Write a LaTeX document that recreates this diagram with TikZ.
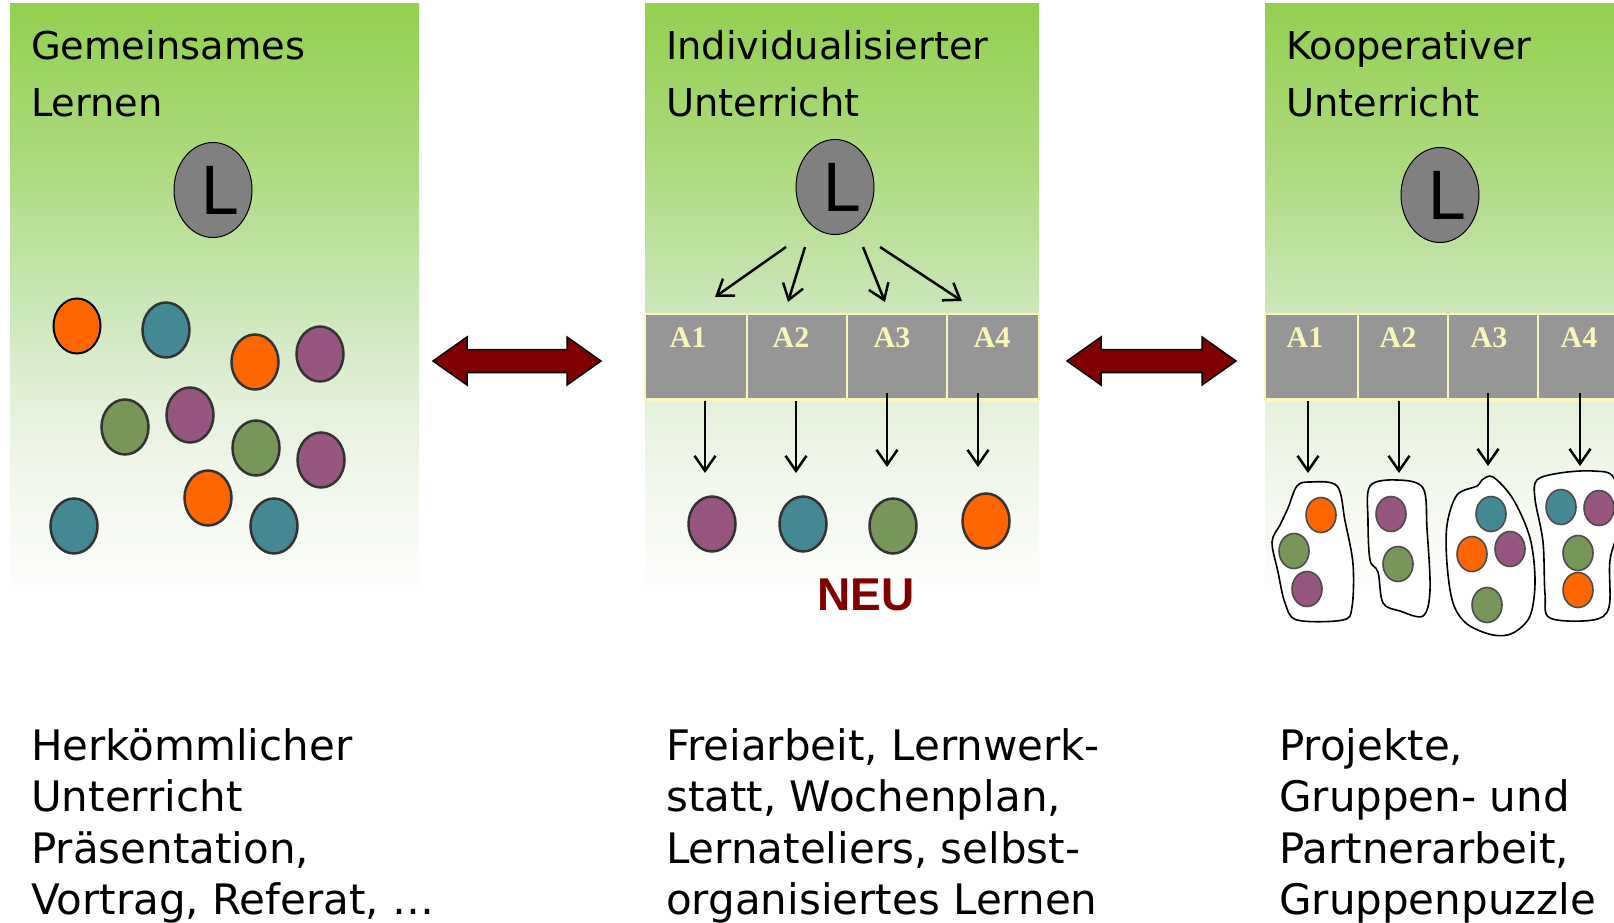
\documentclass[tikz,border=0pt]{standalone}
\usepackage{fontspec}
\setmainfont{DejaVu Sans}
\newfontfamily\labfont{Liberation Serif}
\newfontfamily\neufont{Liberation Sans}
\usetikzlibrary{arrows.meta,shapes.geometric}
\definecolor{pgreen}{RGB}{146,208,80}
\definecolor{pg2}{RGB}{170,217,122}
\definecolor{pmid}{RGB}{204,231,186}
\definecolor{pw3}{RGB}{228,240,218}
\definecolor{pw2}{RGB}{240,246,235}
\definecolor{pw1}{RGB}{250,252,248}
\definecolor{dorange}{RGB}{255,102,0}
\definecolor{dteal}{RGB}{68,136,150}
\definecolor{dpurple}{RGB}{150,86,128}
\definecolor{dgreen}{RGB}{120,150,88}
\definecolor{cellgray}{RGB}{150,150,150}
\definecolor{cellline}{RGB}{250,246,185}
\definecolor{darr}{RGB}{128,0,0}
\definecolor{lgray}{RGB}{128,128,128}
\pgfdeclareverticalshading{panelshade}{100bp}{color(0bp)=(white); color(25bp)=(white); color(28bp)=(pw1); color(35.6bp)=(pw2); color(41.5bp)=(pw3); color(49bp)=(pmid); color(62.6bp)=(pg2); color(75bp)=(pgreen); color(100bp)=(pgreen)}
\begin{document}
\begin{tikzpicture}[x=1pt,y=-1pt,
  panel/.style={shading=panelshade, draw=none},
  teacher/.style={ellipse, draw=black, line width=1pt, fill=lgray, minimum width=78pt, minimum height=95pt, inner sep=0pt},
  ltext/.style={font=\fontsize{66}{66}\selectfont, inner sep=0pt, text=black},
  dot/.style={ellipse, draw=black!80, line width=2.5pt, minimum width=47pt, minimum height=55pt, inner sep=0pt},
  sdot/.style={ellipse, draw=black!70, line width=1.6pt, minimum width=30pt, minimum height=35pt, inner sep=0pt},
  cell/.style={rectangle, draw=cellline, fill=cellgray, line width=2.5pt, minimum height=85pt, inner sep=0pt},
  alab/.style={font=\labfont\bfseries\fontsize{30}{30}\selectfont, text=cellline, anchor=base, inner sep=0pt},
  arr/.style={-{Straight Barb[length=15pt,width=21pt]}, line width=2.5pt},
  bigarrow/.style={fill=darr, draw=black, line width=1.5pt, line join=miter},
  blob/.style={fill=white, draw=black, line width=1.6pt},
  ttext/.style={font=\fontsize{38.4}{57}\selectfont, align=left, inner sep=0pt, anchor=base west},
  btext/.style={font=\fontsize{42}{51.5}\selectfont, align=left, inner sep=0pt, anchor=base west}
]
\useasboundingbox (0,0) rectangle (1614,923);
\fill[white] (0,0) rectangle (1614,923);

% panels
\shade[panel] (10,4) rectangle (419,596);
\shade[panel] (645,4) rectangle (1039,596);
\shade[panel] (1265,4) rectangle (1614,596);

% titles (anchor = baseline of last line)
\node[ttext] (t1) at (31,117) {Gemeinsames\\Lernen};
\node[ttext] (t2) at (666,117) {Individualisierter\\Unterricht};
\node[ttext] (t3) at (1286,117) {Kooperativer\\Unterricht};

% teachers
\node[teacher] (L1) at (213,190) {};
\node[ltext] (L1t) at ([xshift=6pt]L1.center) {L};
\node[teacher] (L2) at (835,187) {};
\node[ltext] (L2t) at ([xshift=6pt]L2.center) {L};
\node[teacher] (L3) at (1440,195) {};
\node[ltext] (L3t) at ([xshift=6pt]L3.center) {L};

% panel 1 dots
\node[dot, fill=dorange, draw=black, line width=2pt] (p1a) at (77,326) {};
\node[dot, fill=dteal] (p1b) at (166,330) {};
\node[dot, fill=dorange] (p1c) at (255,362) {};
\node[dot, fill=dpurple] (p1d) at (320,354) {};
\node[dot, fill=dgreen] (p1e) at (125,427) {};
\node[dot, fill=dpurple] (p1f) at (190,415) {};
\node[dot, fill=dgreen] (p1g) at (256,448) {};
\node[dot, fill=dpurple] (p1h) at (321,460) {};
\node[dot, fill=dorange] (p1i) at (208,498) {};
\node[dot, fill=dteal] (p1j) at (74,526) {};
\node[dot, fill=dteal] (p1k) at (274,526) {};

% double arrows
\draw[bigarrow] (433,361) -- (467,337) -- (467,349.5) -- (567,349.5) -- (567,337) -- (601,361)
  -- (567,385) -- (567,372.5) -- (467,372.5) -- (467,385) -- cycle;
\draw[bigarrow] (1067,361) -- (1101,337) -- (1101,349.5) -- (1202,349.5) -- (1202,337) -- (1236,361)
  -- (1202,385) -- (1202,372.5) -- (1101,372.5) -- (1101,385) -- cycle;

% panel 2 table
\node[cell, minimum width=102pt] (c21) at (696,356.5) {};
\node[cell, minimum width=100pt] (c22) at (797,356.5) {};
\node[cell, minimum width=100pt] (c23) at (897,356.5) {};
\node[cell, minimum width=92pt] (c24) at (993,356.5) {};
\draw[cellline, line width=3pt] (c21.south west) -- (c24.south east);
\node[alab] (a21) at (688,347) {A1};
\node[alab] (a22) at (791,347) {A2};
\node[alab] (a23) at (892,347) {A3};
\node[alab] (a24) at (992,347) {A4};

% panel 3 table
\node[cell, minimum width=93pt] (c31) at (1311.5,356.5) {};
\node[cell, minimum width=90pt] (c32) at (1403,356.5) {};
\node[cell, minimum width=90pt] (c33) at (1493,356.5) {};
\node[cell, minimum width=90pt] (c34) at (1583,356.5) {};
\draw[cellline, line width=3pt] (c31.south west) -- (c34.south east);
\node[alab] (a31) at (1305,347) {A1};
\node[alab] (a32) at (1398,347) {A2};
\node[alab] (a33) at (1489,347) {A3};
\node[alab] (a34) at (1579,347) {A4};

% teacher arrows panel 2
\coordinate (s1) at (786,247); \coordinate (e1) at (715,297);
\coordinate (s2) at (805,247); \coordinate (e2) at (788,302);
\coordinate (s3) at (863,247); \coordinate (e3) at (885,302);
\coordinate (s4) at (880,247); \coordinate (e4) at (962,301);
\draw[arr] (s1) -- (e1);
\draw[arr] (s2) -- (e2);
\draw[arr] (s3) -- (e3);
\draw[arr] (s4) -- (e4);

% down arrows panel 2
\coordinate (d21s) at (705,401); \coordinate (d21e) at (705,473);
\coordinate (d22s) at (796,401); \coordinate (d22e) at (796,473);
\coordinate (d23s) at (887,393); \coordinate (d23e) at (887,467);
\coordinate (d24s) at (978,393); \coordinate (d24e) at (978,467);
\draw[arr] (d21s) -- (d21e);
\draw[arr] (d22s) -- (d22e);
\draw[arr] (d23s) -- (d23e);
\draw[arr] (d24s) -- (d24e);

% panel 2 dots
\node[dot, fill=dpurple] (q1) at (712,524) {};
\node[dot, fill=dteal] (q2) at (803,524) {};
\node[dot, fill=dgreen] (q3) at (893,526) {};
\node[dot, fill=dorange] (q4) at (986,521) {};
\node[font=\neufont\bfseries\fontsize{46}{46}\selectfont, text=darr, anchor=base, inner sep=0pt] (neu) at (866,610) {NEU};

% down arrows panel 3
\coordinate (d31s) at (1308,401); \coordinate (d31e) at (1308,473);
\coordinate (d32s) at (1399,401); \coordinate (d32e) at (1399,473);
\coordinate (d33s) at (1488,393); \coordinate (d33e) at (1488,466);
\coordinate (d34s) at (1580,393); \coordinate (d34e) at (1580,466);
\draw[arr] (d31s) -- (d31e);
\draw[arr] (d32s) -- (d32e);
\draw[arr] (d33s) -- (d33e);
\draw[arr] (d34s) -- (d34e);

% groups (blobs)
\draw[blob] plot[smooth cycle, tension=0.55] coordinates {(1310,482) (1337,486) (1345,521) (1353,564) (1352,607) (1343,620) (1297,620) (1285,603) (1278,572) (1272,542) (1280,525) (1288,508) (1297,486)};
\draw[blob] plot[smooth cycle, tension=0.55] coordinates {(1370,486) (1397,480) (1423,488) (1427,529) (1430,590) (1423,616) (1400,611) (1383,603) (1378,572) (1370,560) (1368,521)};
\draw[blob] plot[smooth cycle, tension=0.55] coordinates {(1482,480) (1493,477) (1513,499) (1530,538) (1535,581) (1530,616) (1513,633) (1493,635) (1467,624) (1453,603) (1447,564) (1447,525) (1457,495) (1477,486)};
\draw[blob] plot[smooth cycle, tension=0.55] coordinates {(1537,480) (1560,473) (1593,471) (1614,478) (1620,521) (1610,560) (1609,607) (1593,620) (1550,618) (1545,594) (1543,542) (1535,499)};

% group dots
\node[sdot, fill=dorange] (g1a) at (1321,515) {};
\node[sdot, fill=dgreen] (g1b) at (1294,551) {};
\node[sdot, fill=dpurple] (g1c) at (1307,589) {};
\node[sdot, fill=dpurple] (g2a) at (1391,514) {};
\node[sdot, fill=dgreen] (g2b) at (1398,564) {};
\node[sdot, fill=dteal] (g3a) at (1491,514) {};
\node[sdot, fill=dorange] (g3b) at (1472,554) {};
\node[sdot, fill=dpurple] (g3c) at (1510,549) {};
\node[sdot, fill=dgreen] (g3d) at (1487,605) {};
\node[sdot, fill=dteal] (g4a) at (1561,507) {};
\node[sdot, fill=dpurple] (g4b) at (1599,508) {};
\node[sdot, fill=dgreen] (g4c) at (1578,553) {};
\node[sdot, fill=dorange] (g4d) at (1578,590) {};

% bottom texts (anchor = baseline of last line)
\node[btext] (b1) at (31,914.5) {Herkömmlicher\\Unterricht\\Präsentation,\\Vortrag, Referat, …};
\node[btext] (b2) at (666,914.5) {Freiarbeit, Lernwerk-\\statt, Wochenplan,\\Lernateliers, selbst-\\organisiertes Lernen};
\node[btext] (b3) at (1279,914.5) {Projekte,\\Gruppen- und\\Partnerarbeit,\\Gruppenpuzzle};
\end{tikzpicture}
\end{document}
